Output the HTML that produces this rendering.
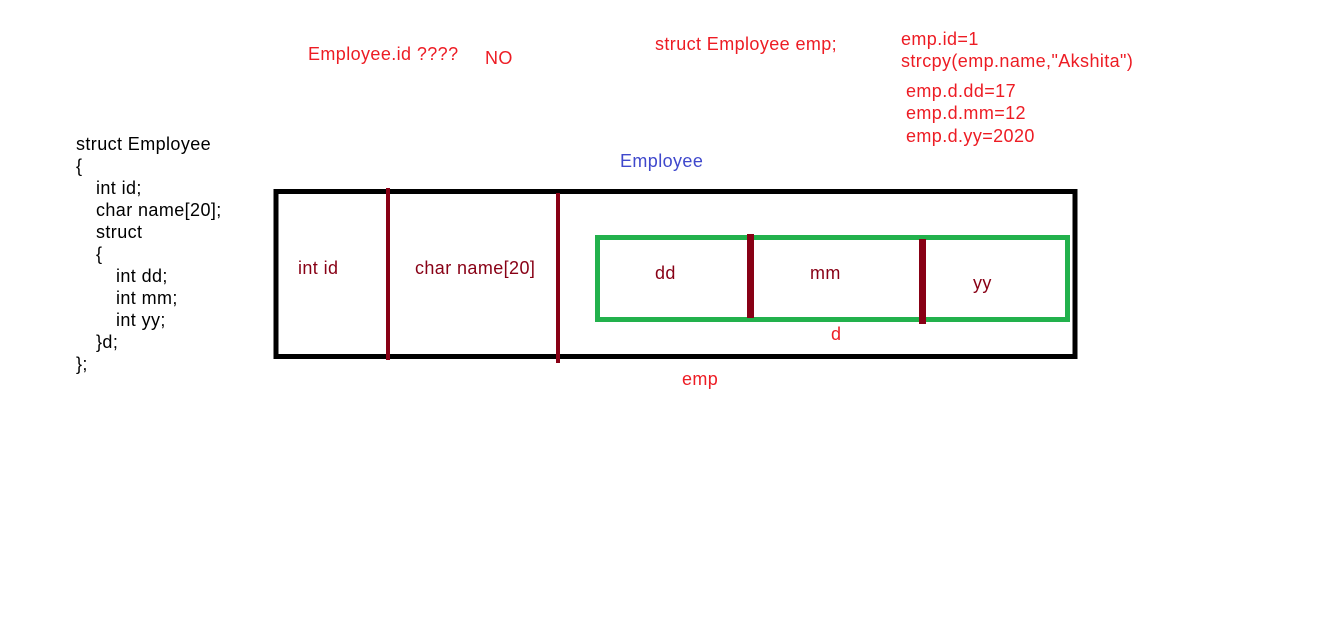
<!DOCTYPE html>
<html><head><style>
html,body{margin:0;padding:0;background:#fff;}
svg{display:block;}
text{font-family:"Liberation Sans",Arial,sans-serif;font-size:18px;letter-spacing:0.4px;}
</style></head><body>
<svg width="1326" height="644" viewBox="0 0 1326 644">
<rect x="0" y="0" width="1326" height="644" fill="#fff"/>
<g fill="#000">
<text x="76" y="150">struct Employee</text>
<text x="76" y="172">{</text>
<text x="96" y="194">int id;</text>
<text x="96" y="216">char name[20];</text>
<text x="96" y="238">struct</text>
<text x="96" y="260">{</text>
<text x="116" y="282">int dd;</text>
<text x="116" y="304">int mm;</text>
<text x="116" y="326">int yy;</text>
<text x="96" y="348">}d;</text>
<text x="76" y="370">};</text>
</g>
<g fill="#ed1c24">
<text x="308" y="60">Employee.id ????</text>
<text x="485" y="64">NO</text>
<text x="655" y="50">struct Employee emp;</text>
<text x="901" y="45">emp.id=1</text>
<text x="901" y="67">strcpy(emp.name,"Akshita")</text>
<text x="906" y="97">emp.d.dd=17</text>
<text x="906" y="119">emp.d.mm=12</text>
<text x="906" y="142">emp.d.yy=2020</text>
<text x="831" y="340">d</text>
<text x="682" y="385">emp</text>
</g>
<text x="620" y="167" fill="#3f48cc">Employee</text>
<rect x="276" y="191.5" width="799" height="165" fill="none" stroke="#000" stroke-width="5"/>
<rect x="597.5" y="237.5" width="470" height="82" fill="none" stroke="#22b14c" stroke-width="5"/>
<g stroke="#880015">
<line x1="388" y1="188" x2="388" y2="360" stroke-width="4"/>
<line x1="558" y1="193" x2="558" y2="363" stroke-width="4"/>
<line x1="750.5" y1="234" x2="750.5" y2="318" stroke-width="7"/>
<line x1="922.5" y1="239" x2="922.5" y2="324" stroke-width="7"/>
</g>
<g fill="#880015">
<text x="298" y="274">int id</text>
<text x="415" y="274">char name[20]</text>
<text x="655" y="279">dd</text>
<text x="810" y="279">mm</text>
<text x="973" y="289">yy</text>
</g>
</svg>
</body></html>
